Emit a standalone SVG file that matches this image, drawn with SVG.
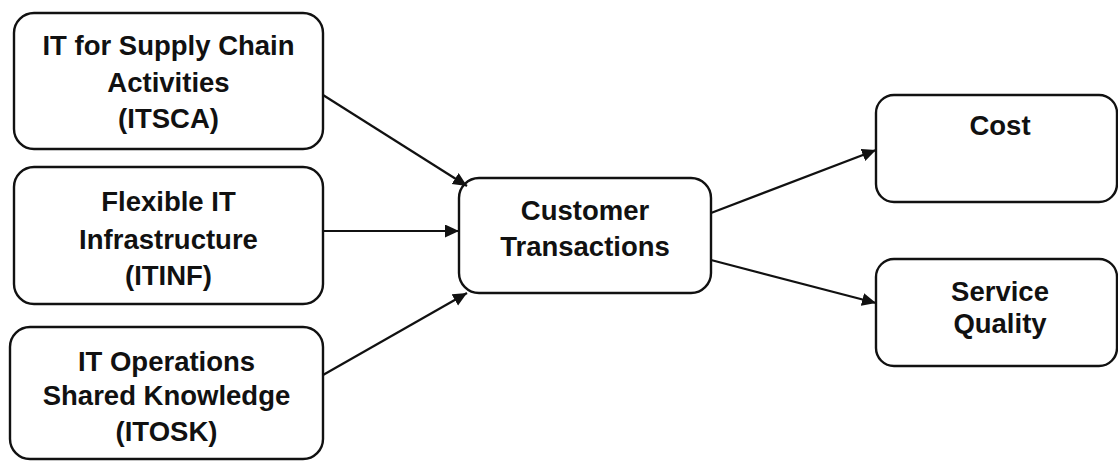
<svg xmlns="http://www.w3.org/2000/svg" width="1118" height="461" viewBox="0 0 1118 461">
<style>
.box{fill:#fff;stroke:#111;stroke-width:2.4}
.t{font-family:"Liberation Sans",Arial,sans-serif;font-weight:bold;font-size:27.5px;fill:#111;text-anchor:middle}
.c{stroke:#111;stroke-width:2.2;fill:none;marker-end:url(#ah)}
</style>
<defs>
<marker id="ah" markerUnits="userSpaceOnUse" markerWidth="16" markerHeight="14" refX="14" refY="6.5" orient="auto">
<path d="M0,0 L14,6.5 L0,13 z" fill="#111"/>
</marker>
</defs>
<rect width="1118" height="461" fill="#fff"/>
<g id="itsca">
<rect class="box" x="14" y="13" width="309" height="136" rx="20"/>
<text class="t" x="168.5" y="55">IT for Supply Chain</text>
<text class="t" x="168.5" y="92">Activities</text>
<text class="t" x="168.5" y="128">(ITSCA)</text>
</g>
<g id="itinf">
<rect class="box" x="14" y="167" width="309" height="137" rx="20"/>
<text class="t" x="168.5" y="211">Flexible IT</text>
<text class="t" x="168.5" y="249">Infrastructure</text>
<text class="t" x="168.5" y="285">(ITINF)</text>
</g>
<g id="itosk">
<rect class="box" x="10" y="327" width="313" height="132" rx="20"/>
<text class="t" x="166.5" y="371">IT Operations</text>
<text class="t" x="166.5" y="405">Shared Knowledge</text>
<text class="t" x="166.5" y="441">(ITOSK)</text>
</g>
<g id="ct">
<rect class="box" x="459" y="178" width="252" height="115" rx="20"/>
<text class="t" x="585" y="220">Customer</text>
<text class="t" x="585" y="256">Transactions</text>
</g>
<g id="cost">
<rect class="box" x="876" y="95" width="241" height="107" rx="18"/>
<text class="t" x="1000" y="135">Cost</text>
</g>
<g id="sq">
<rect class="box" x="876" y="259" width="241" height="107" rx="18"/>
<text class="t" x="1000" y="301">Service</text>
<text class="t" x="1000" y="333">Quality</text>
</g>
<g id="connectors">
<line class="c" x1="323" y1="95" x2="467" y2="186"/>
<line class="c" x1="323" y1="231" x2="459" y2="231"/>
<line class="c" x1="323" y1="375" x2="467" y2="293"/>
<line class="c" x1="711" y1="213" x2="876" y2="150"/>
<line class="c" x1="711" y1="260" x2="876" y2="303"/>
</g>
</svg>
